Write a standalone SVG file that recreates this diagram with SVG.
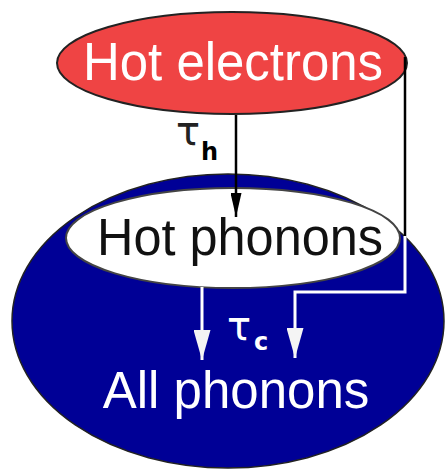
<svg xmlns="http://www.w3.org/2000/svg" width="446" height="470" viewBox="0 0 446 470">
<defs>
<style>
.lbl{font-family:"Liberation Sans",Arial,sans-serif;text-anchor:middle}
.tau{font-family:"DejaVu Sans",sans-serif}
.sub{font-family:"DejaVu Sans",sans-serif;font-weight:bold}
.blk{stroke:#000;stroke-width:2.5;fill:none}
.wht{stroke:#fff;stroke-width:3;fill:none}
</style>
<marker id="ahb" viewBox="0 0 24 11" refX="24" refY="5.5" markerWidth="24" markerHeight="11" orient="auto" markerUnits="userSpaceOnUse"><path d="M0,0 L24,5.5 L0,11 z" fill="#000"/></marker>
<marker id="ahw" viewBox="0 0 30 17" refX="30" refY="8.5" markerWidth="30" markerHeight="17" orient="auto" markerUnits="userSpaceOnUse"><path d="M0,0 L30,8.5 L0,17 z" fill="#f4f4f4"/></marker>
</defs>
<rect width="446" height="470" fill="#fff"/>
<g id="all-phonons">
<ellipse cx="228" cy="321" rx="216" ry="147" fill="#000096" stroke="#222" stroke-width="1.5"/>
<text class="lbl" x="236" y="408" font-size="51" fill="#fff">All phonons</text>
</g>
<g id="hot-phonons">
<ellipse cx="233" cy="238" rx="167" ry="50" fill="#fff" stroke="#444" stroke-width="2"/>
<text class="lbl" x="240" y="255" font-size="51" fill="#111" textLength="286" lengthAdjust="spacingAndGlyphs">Hot phonons</text>
</g>
<g id="hot-electrons">
<ellipse cx="232" cy="63" rx="175" ry="51" fill="#EF4444" stroke="#222" stroke-width="2"/>
<text class="lbl" x="233" y="80" font-size="54" fill="#fff" textLength="300" lengthAdjust="spacingAndGlyphs">Hot electrons</text>
</g>
<g id="connectors">
<line class="blk" x1="236" y1="115" x2="236" y2="217" marker-end="url(#ahb)"/>
<polyline class="blk" points="405,57 405,237"/>
<polyline class="wht" points="405,236 405,292 295,292 295,358" marker-end="url(#ahw)"/>
<line class="wht" x1="202" y1="287" x2="202" y2="360" marker-end="url(#ahw)"/>
</g>
<g id="labels">
<text class="tau" x="176" y="145" font-size="40" fill="#222">τ</text>
<text class="sub" x="201" y="160" font-size="24" fill="#000">h</text>
<text class="tau" x="227" y="340" font-size="40" fill="#fff">τ</text>
<text class="sub" x="254" y="350" font-size="24" fill="#fff">c</text>
</g>
</svg>
